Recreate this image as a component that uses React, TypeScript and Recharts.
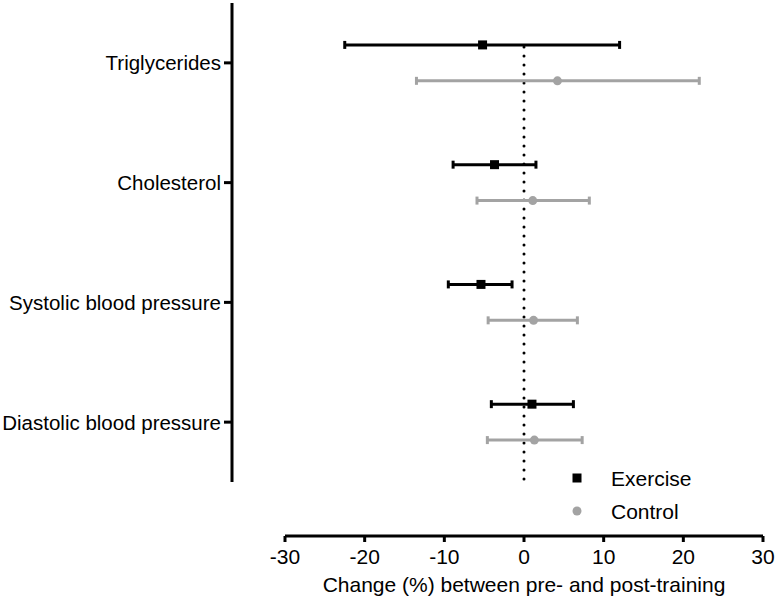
import { ScatterChart, Scatter, XAxis, YAxis, ErrorBar, ReferenceLine, Legend } from 'recharts';

const categories = ['Triglycerides', 'Cholesterol', 'Systolic blood pressure', 'Diastolic blood pressure'];
const seriesNames = ['Exercise', 'Control'];

const exerciseMean = [-5.2, -3.7, -5.4, 1.0];
const exerciseLow = [-22.5, -8.9, -9.5, -4.1];
const exerciseHigh = [12.0, 1.5, -1.5, 6.2];

const controlMean = [4.2, 1.1, 1.2, 1.3];
const controlLow = [-13.5, -5.9, -4.5, -4.6];
const controlHigh = [22.0, 8.2, 6.7, 7.3];

const xTicks = [-30, -20, -10, 0, 10, 20, 30];

const FONT = '"Liberation Sans", Arial, Helvetica, sans-serif';
const FONT_SIZE = 21;
const CAT_FONT_SIZE = 20.5;
const EXERCISE_COLOR = '#000000';
const CONTROL_COLOR = '#a3a3a3';
// vertical nudge of each group around its category row
const GROUP_OFFSET = 0.15;

const buildRows = (mean: number[], low: number[], high: number[], shift: number) =>
  categories.map((name, i) => ({
    name,
    x: mean[i],
    y: i + 1 + shift,
    err: [mean[i] - low[i], high[i] - mean[i]],
  }));

const exerciseData = buildRows(exerciseMean, exerciseLow, exerciseHigh, -GROUP_OFFSET);
const controlData = buildRows(controlMean, controlLow, controlHigh, GROUP_OFFSET);

const SquareDot = (props: any) => (
  <rect x={props.cx - 4.5} y={props.cy - 4.5} width={9} height={9} fill={EXERCISE_COLOR} />
);

const RoundDot = (props: any) => <circle cx={props.cx} cy={props.cy} r={4.5} fill={CONTROL_COLOR} />;

// x axis sits 54px below the plot, like the Prism original
const XTick = ({ x, y, payload }: any) => (
  <g>
    <line x1={x} x2={x} y1={y + 54} y2={y + 60} stroke="#000" strokeWidth={3} />
    <text x={x} y={y + 82} textAnchor="middle" fontSize={FONT_SIZE} fontFamily={FONT} fill="#000">
      {payload.value}
    </text>
  </g>
);

// y axis sits 53px left of the plot
const YTick = ({ x, y, payload }: any) => (
  <g>
    <line x1={x - 61} x2={x - 53} y1={y} y2={y} stroke="#000" strokeWidth={3} />
    <text x={x - 64} y={y + 7.5} textAnchor="end" fontSize={CAT_FONT_SIZE} fontFamily={FONT} fill="#000">
      {categories[payload.value - 1]}
    </text>
  </g>
);

const ZeroLine = (props: any) => (
  <line
    x1={props.x1}
    x2={props.x2}
    y1={props.y1 - 3}
    y2={props.y2 + 43}
    stroke="#000"
    strokeWidth={3}
    strokeDasharray="0 9"
    strokeLinecap="round"
  />
);

const renderLegend = (props: any) => {
  const items = [...(props.payload || [])].sort(
    (a: any, b: any) => seriesNames.indexOf(a.value) - seriesNames.indexOf(b.value)
  );
  return (
    <div style={{ fontFamily: FONT, fontSize: FONT_SIZE, color: '#000' }}>
      {items.map((entry: any) => (
        <div key={entry.value} style={{ display: 'flex', alignItems: 'center', height: 33 }}>
          <svg width={10} height={10} style={{ display: 'block' }}>
            {entry.type === 'square' ? (
              <rect x={0.5} y={0.5} width={9} height={9} fill={EXERCISE_COLOR} />
            ) : (
              <circle cx={5} cy={5} r={4.5} fill={CONTROL_COLOR} />
            )}
          </svg>
          <span style={{ marginLeft: 29, lineHeight: '21px' }}>{entry.value}</span>
        </div>
      ))}
    </div>
  );
};

export default function App() {
  return (
    <div style={{ position: 'absolute', left: 0, top: 0, fontFamily: FONT }}>
      <ScatterChart width={776} height={601} margin={{ top: 3, right: 13, left: 0, bottom: 0 }}>
        <XAxis
          type="number"
          dataKey="x"
          domain={[-30, 30]}
          ticks={xTicks}
          height={119}
          tickSize={0}
          tickMargin={0}
          tickLine={false}
          tick={<XTick />}
          axisLine={{ stroke: '#000', strokeWidth: 3, transform: 'translate(0,54)' }}
          label={{
            value: 'Change (%) between pre- and post-training',
            position: 'insideBottom',
            offset: 9,
            fontSize: FONT_SIZE,
            fontFamily: FONT,
            fill: '#000',
          }}
        />
        <YAxis
          type="number"
          dataKey="y"
          domain={[0.5, 4.5]}
          ticks={[1, 2, 3, 4]}
          reversed
          width={285}
          tickSize={0}
          tickMargin={0}
          tickLine={false}
          tick={<YTick />}
          axisLine={{ stroke: '#000', strokeWidth: 3, transform: 'translate(-53,0)' }}
        />
        <ReferenceLine x={0} shape={<ZeroLine />} />
        <Scatter
          name="Exercise"
          data={exerciseData}
          fill={EXERCISE_COLOR}
          legendType="square"
          shape={<SquareDot />}
          isAnimationActive={false}
        >
          <ErrorBar dataKey="err" direction="x" width={4} stroke={EXERCISE_COLOR} strokeWidth={3} />
        </Scatter>
        <Scatter
          name="Control"
          data={controlData}
          fill={CONTROL_COLOR}
          legendType="circle"
          shape={<RoundDot />}
          isAnimationActive={false}
        >
          <ErrorBar dataKey="err" direction="x" width={4} stroke={CONTROL_COLOR} strokeWidth={3} />
        </Scatter>
        <Legend
          layout="vertical"
          align="center"
          verticalAlign="middle"
          content={renderLegend}
          wrapperStyle={{ left: 572, top: 461.5, width: 'auto' }}
        />
      </ScatterChart>
    </div>
  );
}
